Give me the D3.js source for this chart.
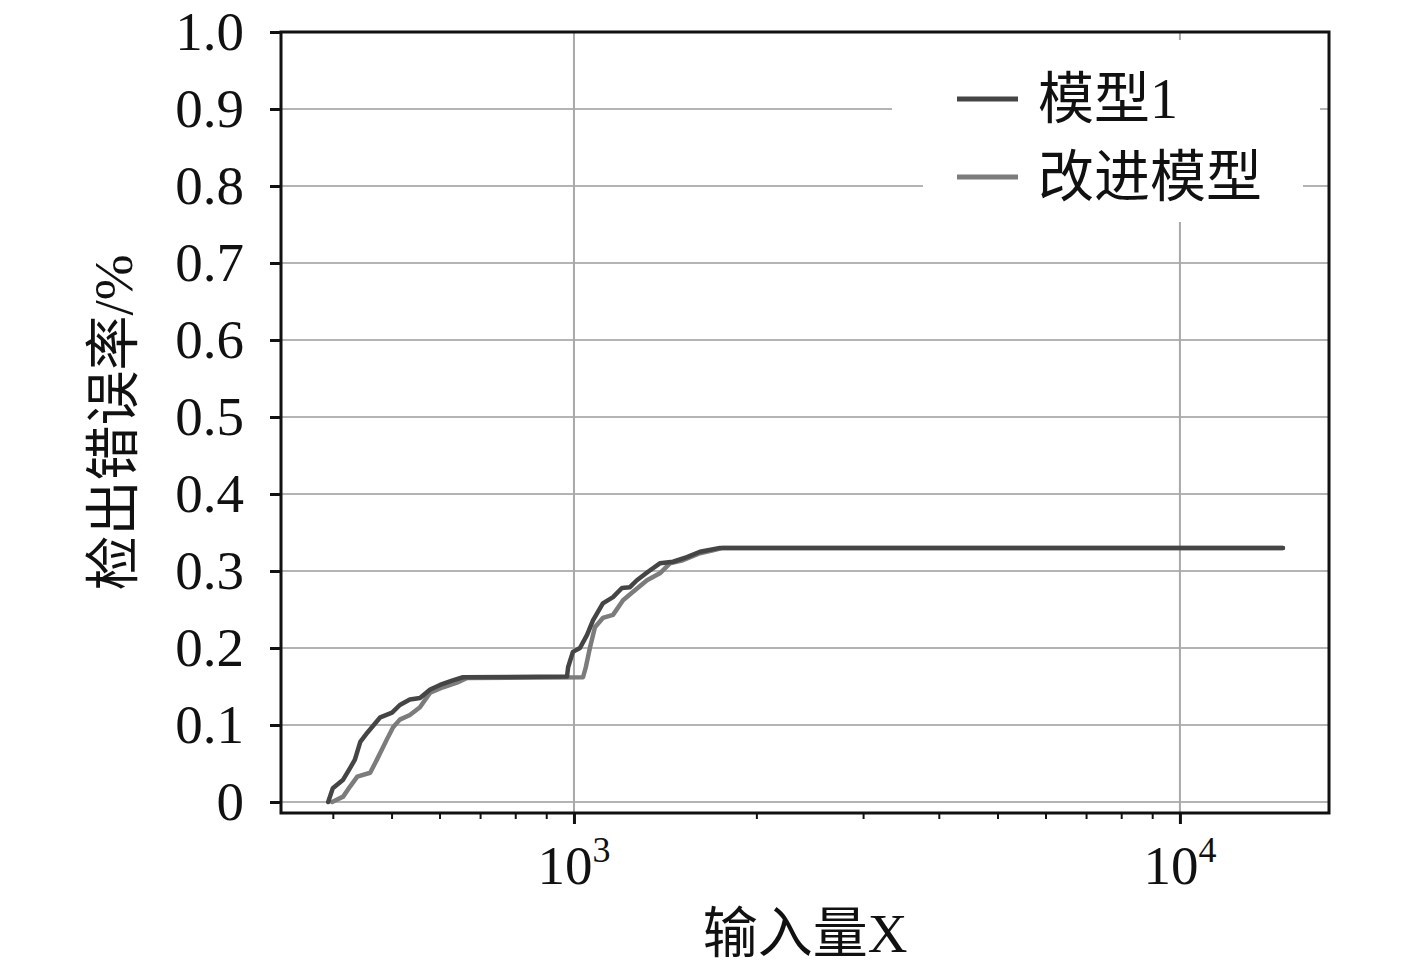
<!DOCTYPE html>
<html>
<head>
<meta charset="utf-8">
<script src="https://cdn.jsdelivr.net/npm/d3@7/dist/d3.min.js"></script>
<style>
  html, body { margin: 0; padding: 0; background: #fff; }
  svg { display: block; }
  text { font-family: "Liberation Serif", "Noto Sans CJK SC", serif; fill: #111; }
</style>
</head>
<body>
<svg id="chart" width="1417" height="970"></svg>
<script>
// ---------------- data ----------------
const seriesNames = ["模型1", "改进模型"];
const model1X = [393, 400, 416, 427, 435, 444, 456, 479, 501, 516, 536, 557, 579, 601, 631, 656, 974, 978, 996, 1023, 1051, 1075, 1116, 1160, 1200, 1237, 1270, 1325, 1386, 1457, 1536, 1614, 1742, 14790];
const model1Y = [0, 0.018, 0.029, 0.044, 0.055, 0.078, 0.090, 0.110, 0.116, 0.126, 0.133, 0.135, 0.146, 0.152, 0.158, 0.162, 0.163, 0.175, 0.195, 0.200, 0.217, 0.236, 0.258, 0.266, 0.278, 0.279, 0.288, 0.299, 0.310, 0.312, 0.318, 0.325, 0.330, 0.330];
const improvedX = [399, 416, 427, 439, 461, 473, 491, 503, 516, 536, 557, 579, 608, 641, 666, 1035, 1046, 1063, 1083, 1116, 1160, 1205, 1252, 1320, 1386, 1440, 1513, 1614, 1696, 1762, 14790];
const improvedY = [0, 0.007, 0.020, 0.033, 0.038, 0.055, 0.081, 0.097, 0.107, 0.113, 0.123, 0.142, 0.149, 0.155, 0.161, 0.162, 0.175, 0.201, 0.227, 0.239, 0.243, 0.262, 0.273, 0.288, 0.297, 0.310, 0.314, 0.323, 0.327, 0.330, 0.330];
const xDomain = [328.5, 17620];
const xMajorTicks = [1000, 10000];
const xMajorExponents = ["3", "4"];
const xMinorTicks = [400, 500, 600, 700, 800, 900, 2000, 3000, 4000, 5000, 6000, 7000, 8000, 9000];
const yTicks = [0, 0.1, 0.2, 0.3, 0.4, 0.5, 0.6, 0.7, 0.8, 0.9, 1.0];
const yTickLabels = ["0", "0.1", "0.2", "0.3", "0.4", "0.5", "0.6", "0.7", "0.8", "0.9", "1.0"];
const xTitle = "输入量X";
const yTitle = "检出错误率/%";

// ---------------- layout ----------------
const L = 281, R = 1329, T = 32, B = 813;
const FS = 55;
const svg = d3.select("#chart");
const x = d3.scaleLog().domain(xDomain).range([L, R]);
const y = d3.scaleLinear().domain([0, 1]).range([802, T]);

// gridlines
const grid = svg.append("g");
grid.selectAll("line.h").data(yTicks.filter(d => d < 1)).enter().append("line")
  .attr("x1", L).attr("x2", R).attr("y1", d => y(d)).attr("y2", d => y(d))
  .attr("stroke", "#b4b4b4").attr("stroke-width", 2);
grid.selectAll("line.v").data(xMajorTicks).enter().append("line")
  .attr("x1", d => x(d)).attr("x2", d => x(d)).attr("y1", T).attr("y2", B)
  .attr("stroke", "#a8a8a8").attr("stroke-width", 2);

// legend background masks
svg.append("rect").attr("x", 892).attr("y", 40).attr("width", 1320 - 892).attr("height", 105).attr("fill", "#fff");
svg.append("rect").attr("x", 923).attr("y", 140).attr("width", 1303 - 923).attr("height", 82).attr("fill", "#fff");

// series
const series = [
  { name: seriesNames[0], xs: model1X, ys: model1Y, color: "#454545" },
  { name: seriesNames[1], xs: improvedX, ys: improvedY, color: "#7c7c7c" }
];
const line = d3.line().x(d => x(d[0])).y(d => y(d[1])).curve(d3.curveLinear);
[series[1], series[0]].forEach(s => {
  svg.append("path")
    .datum(s.xs.map((v, i) => [v, s.ys[i]]))
    .attr("d", line)
    .attr("fill", "none")
    .attr("stroke", s.color)
    .attr("stroke-width", 4.5)
    .attr("stroke-linejoin", "round")
    .attr("stroke-linecap", "round");
});

// frame
svg.append("rect").attr("x", L).attr("y", T).attr("width", R - L).attr("height", B - T)
  .attr("fill", "none").attr("stroke", "#111").attr("stroke-width", 3);

// y axis
const yAxis = d3.axisLeft(y).tickValues(yTicks).tickSize(11).tickPadding(26)
  .tickFormat((d, i) => yTickLabels[i]);
const gy = svg.append("g").attr("transform", `translate(${L},0)`).call(yAxis);
gy.select(".domain").remove();
gy.selectAll(".tick line").attr("stroke", "#111").attr("stroke-width", 3);
gy.selectAll(".tick text").attr("font-size", FS).attr("fill", "#111")
  .style("font-family", "'Liberation Serif', serif");

// x axis minor ticks
const xAxisMinor = d3.axisBottom(x).tickValues(xMinorTicks).tickSize(6).tickFormat("");
const gxm = svg.append("g").attr("transform", `translate(0,${B})`).call(xAxisMinor);
gxm.select(".domain").remove();
gxm.selectAll(".tick line").attr("stroke", "#111").attr("stroke-width", 2);

// x axis major ticks
const xAxisMajor = d3.axisBottom(x).tickValues(xMajorTicks).tickSize(11).tickFormat("");
const gx = svg.append("g").attr("transform", `translate(0,${B})`).call(xAxisMajor);
gx.select(".domain").remove();
gx.selectAll(".tick line").attr("stroke", "#111").attr("stroke-width", 3);
const xl = svg.append("g");
xMajorTicks.forEach((v, i) => {
  const t = xl.append("text").attr("x", x(v)).attr("y", 884).attr("text-anchor", "middle")
    .attr("font-size", FS).style("font-family", "'Liberation Serif', serif");
  t.append("tspan").text("10");
  t.append("tspan").attr("font-size", 36).attr("dy", -22).text(xMajorExponents[i]);
});

// axis titles
svg.append("text").attr("x", (L + R) / 2).attr("y", 952).attr("text-anchor", "middle")
  .attr("font-size", FS).text(xTitle);
svg.append("text").attr("transform", `translate(132,${(T + B) / 2}) rotate(-90)`)
  .attr("text-anchor", "middle").attr("font-size", FS).text(yTitle);

// legend
const leg = svg.append("g");
series.forEach((s, i) => {
  const ly = 99 + i * 78;
  leg.append("line").attr("x1", 957).attr("x2", 1018).attr("y1", ly).attr("y2", ly)
    .attr("stroke", s.color).attr("stroke-width", 5);
  leg.append("text").attr("x", 1038).attr("y", ly + 19).attr("font-size", 56).text(s.name);
});
</script>
</body>
</html>
